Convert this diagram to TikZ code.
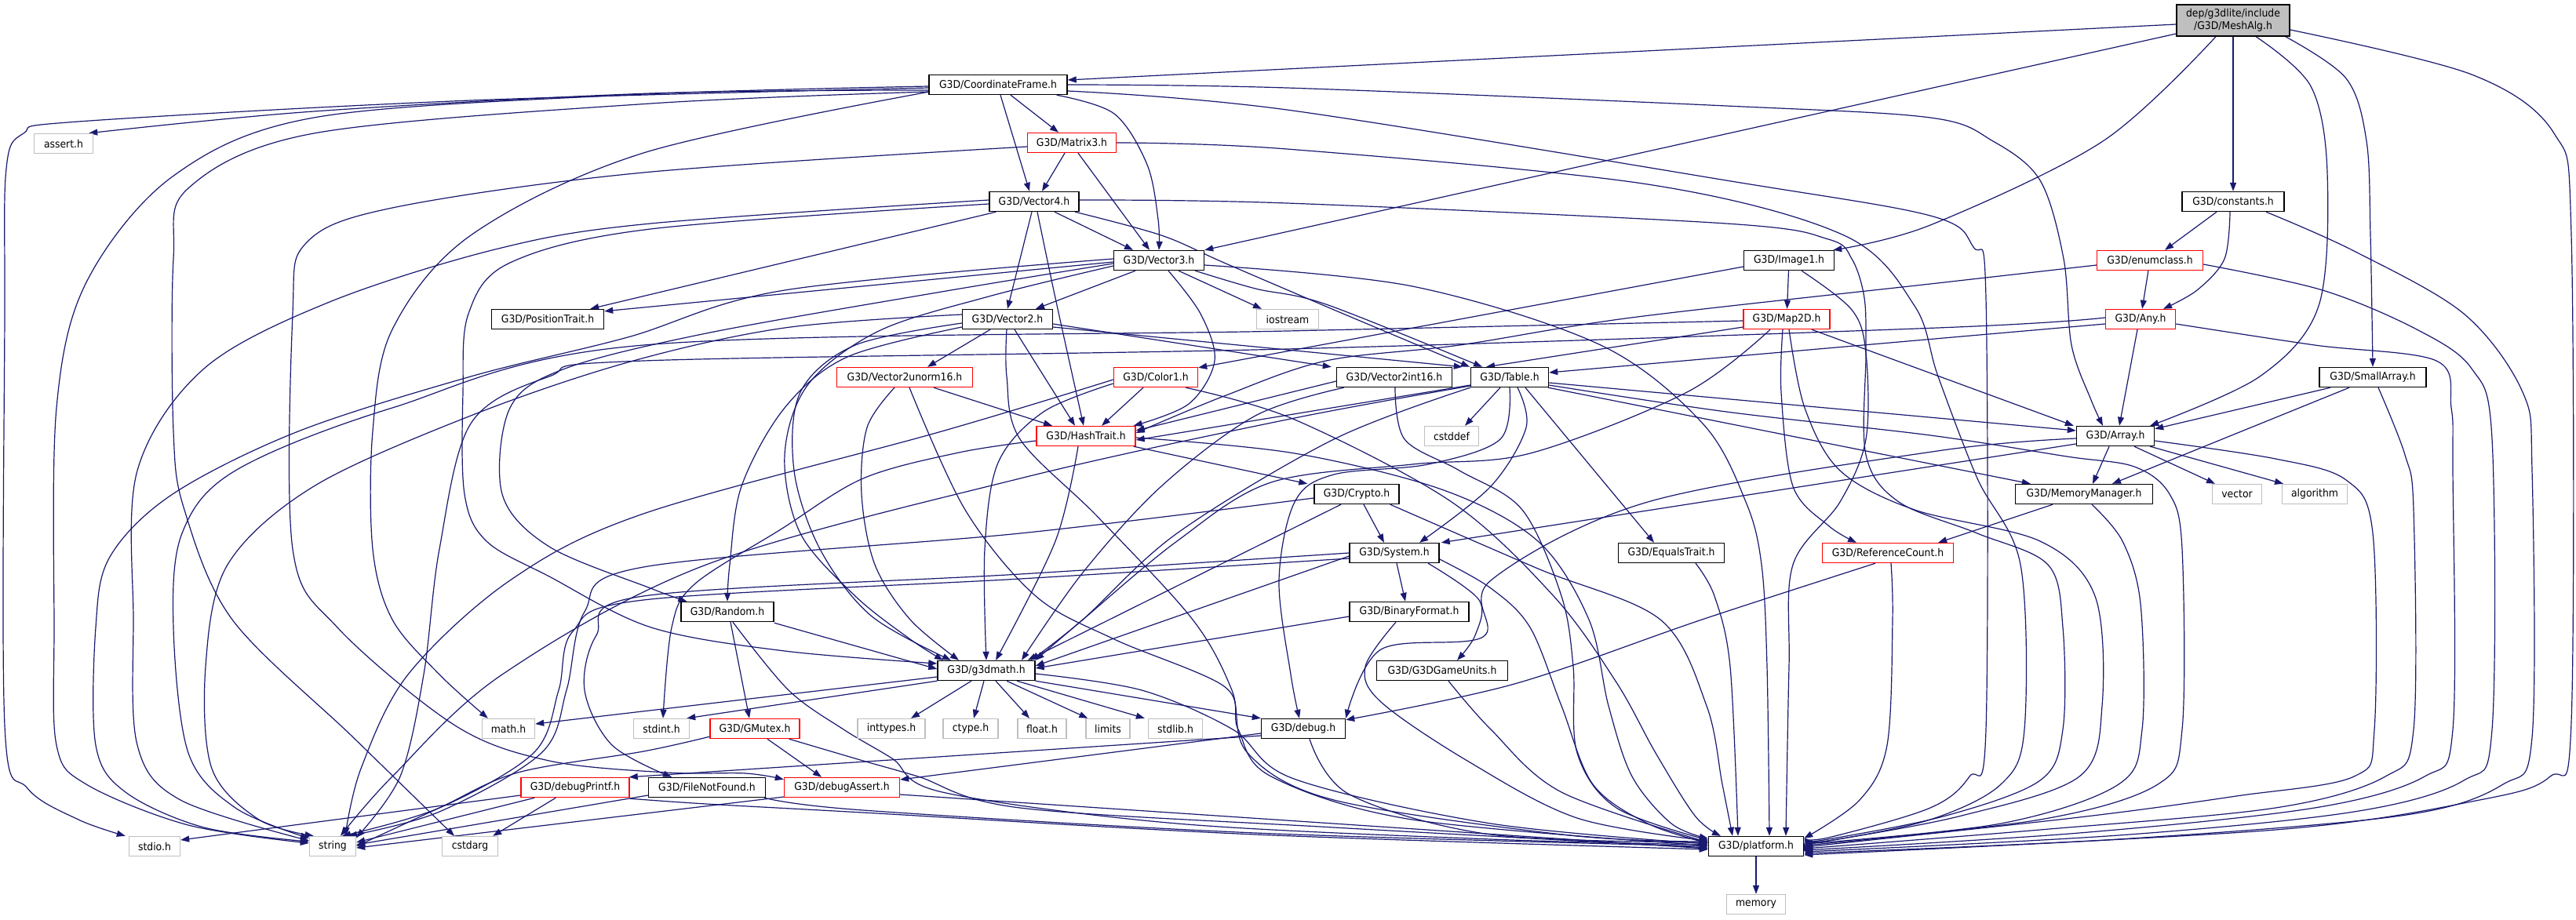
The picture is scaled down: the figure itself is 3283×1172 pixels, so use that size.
\documentclass[tikz,border=0pt]{standalone}
\usepackage{fontspec}
\newfontfamily\nodefont{DejaVu Sans}[FakeStretch=0.92]
\usetikzlibrary{arrows.meta}
\definecolor{edgec}{HTML}{191970}
\definecolor{extc}{HTML}{BFBFBF}
\definecolor{truncc}{HTML}{FF0000}
\pgfdeclarelayer{back}
\pgfdeclarelayer{bg}
\pgfsetlayers{back,bg,main}
\newcommand{\edgeP}[1]{\draw[e] plot[smooth,tension=0.55] coordinates {#1};}
\begin{document}
\begin{tikzpicture}[x=1pt,y=-1pt,
  box/.style={line width=1.4pt, fill=white, minimum height=25pt, inner sep=0pt, font=\nodefont\fontsize{13.5pt}{15.5pt}\selectfont},
  doc/.style={box, draw=black},
  trunc/.style={box, draw=truncc},
  ext/.style={box, draw=extc},
  root/.style={box, draw=black, fill=extc, minimum height=40pt, align=center},
  e/.style={draw=edgec, line width=1.2pt, -{Triangle[length=11pt,width=8pt]}}]
\begin{pgfonlayer}{back}
\fill[white] (0,0) rectangle (3283,1172);
\end{pgfonlayer}
\useasboundingbox (0,0) rectangle (3283,1172);
% nodes
\node[root, minimum width=144pt] (mesh) at (2846,26) {dep/g3dlite/include\\/G3D/MeshAlg.h};
\node[doc, minimum width=176pt] (cf) at (1272,108) {G3D/CoordinateFrame.h};
\node[trunc, minimum width=113pt] (mat3) at (1366,182) {G3D/Matrix3.h};
\node[doc, minimum width=114pt] (vec4) at (1318,257) {G3D/Vector4.h};
\node[doc, minimum width=115pt] (vec3) at (1477,332) {G3D/Vector3.h};
\node[doc, minimum width=143pt] (ptrait) at (698,407) {G3D/PositionTrait.h};
\node[doc, minimum width=115pt] (vec2) at (1284,407) {G3D/Vector2.h};
\node[ext, minimum width=79pt] (iostr) at (1641,407) {iostream};
\node[doc, minimum width=115pt] (img1) at (2280,332) {G3D/Image1.h};
\node[trunc, minimum width=110pt] (map2d) at (2277,407) {G3D/Map2D.h};
\node[doc, minimum width=130pt] (consts) at (2846,257) {G3D/constants.h};
\node[trunc, minimum width=135pt] (enumc) at (2740,332) {G3D/enumclass.h};
\node[trunc, minimum width=89pt] (any) at (2728,407) {G3D/Any.h};
\node[ext, minimum width=75pt] (assert) at (81,183) {assert.h};
\node[trunc, minimum width=173pt] (v2u16) at (1153,481) {G3D/Vector2unorm16.h};
\node[trunc, minimum width=107pt] (color1) at (1473,481) {G3D/Color1.h};
\node[doc, minimum width=147pt] (v2i16) at (1777,481) {G3D/Vector2int16.h};
\node[doc, minimum width=99pt] (table) at (1924,481) {G3D/Table.h};
\node[doc, minimum width=136pt] (small) at (3024,481) {G3D/SmallArray.h};
\node[trunc, minimum width=126pt] (hash) at (1384,556) {G3D/HashTrait.h};
\node[ext, minimum width=69pt] (cstddef) at (1850,556) {cstddef};
\node[doc, minimum width=99pt] (array) at (2696,556) {G3D/Array.h};
\node[doc, minimum width=108pt] (crypto) at (1729,630) {G3D/Crypto.h};
\node[doc, minimum width=175pt] (memmgr) at (2656,630) {G3D/MemoryManager.h};
\node[ext, minimum width=63pt] (vector) at (2851,630) {vector};
\node[ext, minimum width=83pt] (algo) at (2950,630) {algorithm};
\node[doc, minimum width=114pt] (system) at (1777,705) {G3D/System.h};
\node[doc, minimum width=135pt] (equals) at (2130,705) {G3D/EqualsTrait.h};
\node[trunc, minimum width=167pt] (refcnt) at (2406,705) {G3D/ReferenceCount.h};
\node[doc, minimum width=118pt] (random) at (927,780) {G3D/Random.h};
\node[doc, minimum width=152pt] (binfmt) at (1796,780) {G3D/BinaryFormat.h};
\node[doc, minimum width=124pt] (g3dmath) at (1257,855) {G3D/g3dmath.h};
\node[doc, minimum width=167pt] (units) at (1838,855) {G3D/G3DGameUnits.h};
\node[ext, minimum width=67pt] (math) at (648,929) {math.h};
\node[ext, minimum width=71pt] (stdint) at (843,929) {stdint.h};
\node[trunc, minimum width=114pt] (gmutex) at (962,929) {G3D/GMutex.h};
\node[ext, minimum width=86pt] (inttypes) at (1136,929) {inttypes.h};
\node[ext, minimum width=70pt] (ctype) at (1237,929) {ctype.h};
\node[ext, minimum width=62pt] (float) at (1328,929) {float.h};
\node[ext, minimum width=56pt] (limits) at (1412,929) {limits};
\node[ext, minimum width=69pt] (stdlib) at (1498,929) {stdlib.h};
\node[doc, minimum width=107pt] (debug) at (1661,929) {G3D/debug.h};
\node[trunc, minimum width=138pt] (dprintf) at (733,1004) {G3D/debugPrintf.h};
\node[doc, minimum width=149pt] (fnf) at (901,1004) {G3D/FileNotFound.h};
\node[trunc, minimum width=147pt] (dassert) at (1073,1004) {G3D/debugAssert.h};
\node[ext, minimum width=65pt] (stdio) at (197,1079) {stdio.h};
\node[ext, minimum width=59pt] (string) at (424,1079) {string};
\node[ext, minimum width=71pt] (cstdarg) at (599,1079) {cstdarg};
\node[doc, minimum width=121pt] (platform) at (2238,1079) {G3D/platform.h};
\node[ext, minimum width=75pt] (memory) at (2238,1153) {memory};

\begin{pgfonlayer}{bg}
% MeshAlg
\draw[e] ([yshift=-5pt]mesh.west) -- ([yshift=6pt]cf.east);
\draw[e] ([yshift=-17pt]mesh.west) -- (vec3.north east);
\edgeP{([xshift=-22pt]mesh.south) (2680,180) (2460,287) ([xshift=-2pt]img1.north east)}
\draw[e] (mesh) -- (consts);
\edgeP{([xshift=29pt]mesh.south) (2945,110) (2966,220) (2955,390) (2880,480) ([xshift=-6pt]array.north east)}
\edgeP{([xshift=-6pt]mesh.south east) (2990,100) (3016,180) (3021,300) (small.north)}
\edgeP{([yshift=-12pt]mesh.east) (3150,95) (3255,170) (3277,300) (3277,920) (3250,990) (3160,1020) (2900,1058) ([yshift=-11pt]platform.east)}
% CoordinateFrame
\edgeP{([yshift=-7pt]cf.west) (830,119) (400,142) ([xshift=-6pt]assert.north east)}
\edgeP{([yshift=-4pt]cf.west) (600,128) (100,155) (30,170) (8,215) (6,400) (6,925) (35,1005) (100,1045) ([xshift=-4pt]stdio.north west)}
\edgeP{([yshift=-2pt]cf.west) (800,121) (400,150) (220,225) (110,360) (72,520) (69,800) (72,950) (110,1000) (240,1052) ([yshift=4pt]string.west)}
\edgeP{([yshift=-9pt]cf.west) (829,132) (400,170) (240,240) (221,330) (221,550) (235,650) (296,790) (450,940) ([xshift=-20pt]cstdarg.north)}
\edgeP{([yshift=4pt]cf.south west) (820,195) (600,300) (500,420) (475,550) (475,700) (500,790) (560,860) ([xshift=8pt]math.north west)}
\draw[e] ([xshift=16pt]cf.south) -- ([xshift=-17pt]mat3.north);
\draw[e] ([xshift=3pt]cf.south) -- ([xshift=-6pt]vec4.north);
\edgeP{([xshift=-14pt]cf.south east) (1420,145) (1462,210) (1476,280) (vec3.north)}
\edgeP{(cf.east) (1640,112) (2200,135) (2460,150) (2540,180) (2600,230) (2630,330) (2640,440) (2665,510) ([xshift=-16pt]array.north)}
\edgeP{([yshift=-8pt]cf.east) (1640,140) (2200,230) (2460,275) (2515,315) (2531,380) (2531,930) (2510,990) (2460,1030) (2330,1068) ([yshift=11pt]platform.east)}
% Matrix3
\draw[e] ([xshift=-9pt]mat3.south) -- ([xshift=10pt]vec4.north);
\draw[e] ([xshift=8pt]mat3.south) -- ([xshift=-12pt]vec3.north);
\edgeP{([yshift=-5pt]mat3.west) (820,220) (500,265) (390,310) (373,400) (373,700) (430,800) (580,925) (700,970) (850,985) (950,986) ([yshift=-3pt]dassert.north west)}
\edgeP{(mat3.east) (1640,190) (2100,235) (2350,300) (2440,390) (2470,480) (2520,610) (2575,720) (2580,930) (2550,1000) (2460,1045) (2330,1072) ([yshift=9pt]platform.east)}
% Vector4
\draw[e] ([xshift=26pt]vec4.south) -- ([xshift=-33pt]vec3.north);
\draw[e] ([xshift=-3pt]vec4.south) -- (vec2.north);
\edgeP{([xshift=4pt]vec4.south) (1345,380) ([xshift=-3pt]hash.north)}
\edgeP{([xshift=52pt]vec4.south) (1480,300) (1560,335) (1700,395) ([xshift=-51pt]table.north)}
\draw[e] ([xshift=9pt]vec4.south west) -- ([xshift=-18pt]ptrait.north east);
\edgeP{([yshift=2pt]vec4.west) (829,285) (635,317) (420,385) (260,470) (175,600) (170,790) (175,950) (230,1020) ([yshift=-6pt]string.north west)}
\edgeP{([yshift=-3pt]vec4.west) (829,292) (650,335) (597,400) (590,500) (592,630) (620,690) (700,735) (830,800) (1000,830) ([yshift=9pt]g3dmath.west)}
\edgeP{([yshift=2pt]vec4.east) (1640,259) (2200,285) (2330,305) (2360,330) (2376,380) (2378,450) (2378,580) (2420,640) (2520,680) (2610,720) (2629,800) (2629,930) (2600,995) (2480,1040) (2330,1070) ([yshift=7pt]platform.east)}
% Vector3
\draw[e] ([xshift=-30pt]vec3.south) -- ([xshift=36pt]vec2.north);
\draw[e] ([xshift=25pt]vec3.south) -- ([xshift=-33pt]iostr.north);
\edgeP{([xshift=-12pt]vec3.south east) (1600,368) (1690,388) ([xshift=-35pt]table.north)}
\edgeP{([xshift=12pt]vec3.south) (1530,400) (1548,460) (1515,515) ([xshift=-3pt]hash.north east)}
\edgeP{([yshift=-6pt]vec3.east) (1800,365) (2040,440) (2170,540) (2225,640) (2245,720) (2252,850) ([xshift=17pt]platform.north)}
\edgeP{([yshift=-4pt]vec3.west) (1200,372) (900,425) (720,470) (650,520) (640,630) (700,697) (829,750) ([xshift=8pt]random.north west)}
\edgeP{([yshift=-7pt]vec3.west) (1260,378) (1120,422) (1030,490) (1000,580) (1020,680) (1090,760) (1160,815) ([xshift=-55pt]g3dmath.north)}
\edgeP{([yshift=2pt]vec3.west) (1000,370) (800,430) (600,480) (380,550) (220,630) (140,710) (122,800) (122,950) (160,1010) (260,1055) ([yshift=6pt]string.west)}
\draw[e] ([yshift=-2pt]vec3.west) -- ([yshift=-3pt]ptrait.north east);
% Vector2
\draw[e] ([xshift=-22pt]vec2.south) -- ([xshift=29pt]v2u16.north);
\draw[e] ([xshift=9pt]vec2.south) -- ([xshift=-14pt]hash.north);
\draw[e] ([yshift=-6pt]vec2.east) -- ([xshift=-6pt]v2i16.north west);
\draw[e] ([yshift=-10pt]vec2.east) -- ([xshift=-10pt]table.north west);
\edgeP{([xshift=-1pt]vec2.south) (1283,480) (1300,560) (1400,660) (1520,790) (1570,880) (1590,960) (1700,1020) (2000,1065) ([yshift=6pt]platform.west)}
\edgeP{([yshift=-5pt]vec2.west) (1090,440) (1020,500) (1012,600) (1045,700) (1110,785) ([xshift=-45pt]g3dmath.north)}
\edgeP{([yshift=-10pt]vec2.west) (1080,455) (1000,520) (945,620) (930,720) (random.north)}
\edgeP{([yshift=6pt]vec2.west) (1000,418) (800,462) (600,530) (400,620) (290,720) (262,850) (270,980) (330,1045) ([xshift=6pt]string.north west)}
% Vector2unorm16
\draw[e] ([xshift=37pt]v2u16.south) -- ([xshift=-43pt]hash.north);
\edgeP{([xshift=-13pt]v2u16.south) (1105,545) (1098,630) (1115,720) (1160,790) ([xshift=-35pt]g3dmath.north)}
\edgeP{([xshift=6pt]v2u16.south) (1230,650) (1320,760) (1420,815) (1560,875) (1578,930) (1620,990) (1800,1045) ([yshift=1pt]platform.west)}
% Vector2int16
\draw[e] ([yshift=-5pt]v2i16.west) -- ([yshift=7pt]hash.east);
\edgeP{([xshift=10pt]v2i16.south west) (1600,530) (1480,620) (1380,730) ([xshift=45pt]g3dmath.north)}
\edgeP{([xshift=1pt]v2i16.south) (1790,560) (1860,600) (1940,650) (1990,760) (2005,850) (2010,960) (2060,1030) ([yshift=8pt]platform.west)}
% Color1
\draw[e] ([xshift=-16pt]color1.south) -- ([xshift=20pt]hash.north);
\edgeP{([yshift=-3pt]color1.west) (1200,550) (820,655) (650,740) (520,860) (460,980) ([xshift=16pt]string.north)}
\edgeP{([yshift=-8pt]color1.west) (1330,525) (1272,590) (1255,700) (g3dmath.north)}
\edgeP{([xshift=-16pt]color1.south east) (1650,535) (1850,640) (1980,760) (2060,870) (2110,960) (2160,1040) ([xshift=-45pt]platform.north)}
% Image1
\draw[e] ([yshift=-8pt]img1.west) -- ([yshift=-1pt]color1.north east);
\draw[e] (img1) -- (map2d);
\edgeP{([xshift=16pt]img1.south) (2360,395) (2378,450) (2378,560) (2345,640) (2285,720) (2280,850) ([xshift=38pt]platform.north)}
% Map2D
\draw[e] ([yshift=-10pt]map2d.west) -- ([xshift=-30pt]table.north);
\edgeP{([yshift=-2pt]map2d.west) (1640,422) (820,440) (500,520) (300,600) (232,680) (221,800) (240,960) (300,1030) ([yshift=-3pt]string.north west)}
\edgeP{([xshift=-21pt]map2d.south) (2150,500) (1950,578) (1800,592) (1620,615) (1500,690) (1380,790) (g3dmath.north east)}
\edgeP{([xshift=-5pt]map2d.south) (2270,500) (2285,620) (2330,670) ([xshift=-40pt]refcnt.north)}
\edgeP{([xshift=3pt]map2d.south) (2300,520) (2345,600) (2440,650) (2600,690) (2670,760) (2679,900) (2650,990) (2500,1040) (2330,1072) ([yshift=5pt]platform.east)}
\draw[e] ([xshift=32pt]map2d.south) -- ([xshift=-3pt]array.north west);
% constants
\draw[e] ([xshift=-21pt]consts.south) -- ([xshift=19pt]enumc.north);
\edgeP{([xshift=-4pt]consts.south) (2835,330) (2800,370) ([xshift=29pt]any.north)}
\edgeP{([xshift=42pt]consts.south) (3000,320) (3140,400) (3215,500) (3227,600) (3227,940) (3190,1000) (3060,1040) (2700,1070) ([yshift=-9pt]platform.east)}
% enumclass
\draw[e] (enumc) -- (any);
\edgeP{([yshift=-6pt]enumc.west) (2460,362) (2079,405) (1860,440) (1690,460) (1560,505) ([yshift=4pt]hash.east)}
\edgeP{([yshift=-5pt]enumc.east) (2960,370) (3080,420) (3150,470) (3176,560) (3176,930) (3140,995) (3000,1035) (2700,1065) ([yshift=-7pt]platform.east)}
% Any
\draw[e] ([xshift=-4pt]any.south) -- ([xshift=5pt]array.north);
\draw[e] ([yshift=-6pt]any.west) -- ([yshift=6pt]table.east);
\edgeP{([yshift=2pt]any.west) (2469,418) (1640,445) (820,460) (700,480) (600,540) (560,700) (540,860) (510,990) ([yshift=-2pt]string.north east)}
\edgeP{([yshift=-6pt]any.east) (2950,440) (3105,460) (3124,520) (3126,600) (3126,930) (3090,990) (2950,1030) (2650,1062) ([yshift=-5pt]platform.east)}
% SmallArray
\draw[e] ([xshift=-54pt]small.south) -- ([yshift=-4pt]array.north east);
\draw[e] ([xshift=-30pt]small.south) -- ([xshift=36pt]memmgr.north);
\edgeP{([xshift=7pt]small.south) (3065,580) (3076,650) (3076,930) (3040,990) (2900,1030) (2600,1058) ([yshift=-3pt]platform.east)}
% Array
\draw[e] ([xshift=-8pt]array.south) -- ([xshift=11pt]memmgr.north);
\draw[e] ([xshift=24pt]array.south) -- ([xshift=-28pt]vector.north);
\draw[e] ([xshift=-6pt]array.south east) -- ([xshift=-40pt]algo.north);
\edgeP{([yshift=-6pt]array.east) (2900,585) (2990,612) (3024,680) (3026,930) (3000,990) (2850,1015) (2650,1042) ([yshift=-1pt]platform.east)}
\edgeP{([yshift=-3pt]array.west) (2469,575) (2100,640) (1900,740) (1890,812) (1760,828) (debug.north east)}
\draw[e] ([yshift=-10pt]array.west) -- ([xshift=2pt]system.north east);
% MemoryManager
\draw[e] ([xshift=-40pt]memmgr.south) -- ([xshift=-20pt]refcnt.north east);
\edgeP{([xshift=10pt]memmgr.south) (2705,690) (2728,770) (2730,930) (2700,1000) (2550,1050) ([yshift=3pt]platform.east)}
% ReferenceCount
\edgeP{([xshift=-16pt]refcnt.south) (2169,790) (1930,872) ([yshift=-2pt]debug.north east)}
\edgeP{([xshift=4pt]refcnt.south) (2412,790) (2405,950) (2370,1020) ([yshift=-3pt]platform.north east)}
% Table
\draw[e] ([xshift=-12pt]table.south) -- ([xshift=17pt]cstddef.north);
\draw[e] ([yshift=-10pt]table.west) -- ([yshift=-5pt]hash.east);
\edgeP{(table.south west) (1700,560) (1500,680) (1380,790) ([xshift=-6pt]g3dmath.north east)}
\edgeP{([yshift=-11pt]table.west) (1640,535) (1300,610) (900,720) (640,860) (500,990) ([xshift=10pt]string.north)}
\edgeP{(table.south) (1912,560) (1820,592) (1700,605) (1650,640) (1630,740) (1645,860) ([xshift=-5pt]debug.north)}
\edgeP{([xshift=10pt]table.south) (1945,545) (1900,620) ([xshift=32pt]system.north)}
\draw[e] ([xshift=20pt]table.south) -- ([xshift=-22pt]equals.north);
\draw[e] ([yshift=-7pt]table.east) -- ([yshift=7pt]array.west);
\draw[e] ([xshift=-1pt]table.south east) -- ([xshift=20pt]memmgr.north west);
\edgeP{([yshift=-10pt]table.east) (2200,525) (2460,555) (2634,582) (2720,595) (2765,630) (2781,700) (2781,930) (2750,1000) (2600,1045) ([yshift=1pt]platform.east)}
% EqualsTrait
\edgeP{([xshift=31pt]equals.south) (2185,760) (2205,850) ([xshift=-23pt]platform.north)}
% HashTrait
\draw[e] ([xshift=-3pt]hash.south east) -- ([xshift=-8pt]crypto.north west);
\edgeP{([xshift=-10pt]hash.south) (1345,690) ([xshift=12pt]g3dmath.north)}
\edgeP{([yshift=-6pt]hash.west) (1222,577) (1100,610) (995,675) (885,745) (856,800) ([xshift=2pt]stdint.north)}
\edgeP{([yshift=-2pt]hash.east) (1650,578) (1840,625) (1960,690) (2025,790) (2050,900) (2080,990) (2130,1050) ([yshift=10pt]platform.west)}
% Crypto
\draw[e] ([xshift=9pt]crypto.south) -- ([xshift=-13pt]system.north);
\draw[e] ([xshift=-20pt]crypto.south) -- ([xshift=-10pt]g3dmath.north east);
\edgeP{([yshift=-5pt]crypto.west) (1300,680) (820,723) (745,780) (722,880) (690,960) (560,1035) ([xshift=20pt]string.north)}
\edgeP{([xshift=-12pt]crypto.south east) (1960,725) (2116,790) (2175,900) (2195,1000) ([xshift=-30pt]platform.north)}
% System
\draw[e] ([xshift=3pt]system.south) -- ([xshift=-5pt]binfmt.north);
\edgeP{([xshift=43pt]system.south) (1885,765) (1880,810) ([xshift=19pt]units.north)}
\draw[e] ([yshift=-4pt]system.west) -- ([yshift=6pt]g3dmath.east);
\edgeP{([yshift=-7pt]system.west) (1300,738) (820,765) (730,805) (712,880) (680,960) (560,1030) ([xshift=12pt]string.north)}
\edgeP{(system.west) (1300,732) (820,760) (760,810) (745,880) (780,950) ([xshift=-45pt]fnf.north)}
\edgeP{([yshift=-8pt]system.east) (1900,750) (1950,800) (1990,900) (2030,1000) (2100,1050) ([yshift=4pt]platform.west)}
% BinaryFormat
\draw[e] ([yshift=-6pt]binfmt.west) -- ([yshift=3pt]g3dmath.east);
\edgeP{([xshift=-17pt]binfmt.south) (1740,850) (1760,895) (1870,970) (2010,1043) ([yshift=7pt]platform.west)}
% G3DGameUnits
\edgeP{([xshift=8pt]units.south) (1900,930) (1990,1010) ([yshift=5pt]platform.west)}
% Random
\draw[e] ([xshift=4pt]random.south) -- ([xshift=-7pt]gmutex.north);
\draw[e] ([yshift=-1pt]random.south east) -- ([yshift=2pt]g3dmath.west);
\edgeP{([xshift=7pt]random.south) (1005,880) (1075,930) (1137,967) (1201,1010) (1500,1050) (1900,1070) ([yshift=2pt]platform.west)}
% GMutex
\draw[e] ([xshift=16pt]gmutex.south) -- ([xshift=-26pt]dassert.north);
\edgeP{([yshift=3pt]gmutex.south west) (820,958) (660,985) (560,1030) (string.east)}
\edgeP{([xshift=-14pt]gmutex.south east) (1100,970) (1170,990) (1300,1030) (1700,1055) ([yshift=-2pt]platform.west)}
% g3dmath
\draw[e] ([yshift=-8pt]g3dmath.west) -- ([yshift=6pt]math.east);
\draw[e] (g3dmath.south west) -- ([xshift=-4pt]stdint.north east);
\draw[e] ([xshift=-19pt]g3dmath.south) -- ([xshift=25pt]inttypes.north);
\draw[e] ([xshift=-3pt]g3dmath.south) -- ([xshift=4pt]ctype.north);
\draw[e] ([xshift=12pt]g3dmath.south) -- ([xshift=-16pt]float.north);
\draw[e] ([xshift=26pt]g3dmath.south) -- ([xshift=3pt]limits.north west);
\draw[e] ([xshift=39pt]g3dmath.south) -- ([xshift=-4pt]stdlib.north west);
\draw[e] (g3dmath.south east) -- (debug.north west);
\edgeP{([yshift=-4pt]g3dmath.east) (1455,880) (1571,930) (1649,993) (1900,1050) ([yshift=3pt]platform.west)}
% debug
\draw[e] ([yshift=-6pt]debug.west) -- ([yshift=10pt]dassert.east);
\draw[e] ([yshift=-9pt]debug.west) -- ([xshift=-1pt]dprintf.north east);
\edgeP{([xshift=8pt]debug.south) (1720,1013) (1900,1064) ([yshift=5pt]platform.west)}
% debugPrintf
\draw[e] ([yshift=-10pt]dprintf.west) -- ([yshift=8pt]stdio.east);
\draw[e] ([xshift=18pt]dprintf.south west) -- ([yshift=5pt]string.east);
\draw[e] ([xshift=45pt]dprintf.south west) -- ([xshift=-7pt]cstdarg.north east);
\edgeP{([yshift=-1pt]dprintf.south east) (900,1025) (1100,1036) (1600,1064) ([yshift=-4pt]platform.west)}
% FileNotFound
\draw[e] ([yshift=-10pt]fnf.west) -- ([yshift=2pt]string.east);
\edgeP{([xshift=-2pt]fnf.south east) (1100,1033) (1600,1062) (platform.west)}
% debugAssert
\draw[e] ([yshift=-12pt]dassert.west) -- ([yshift=-2pt]string.east);
\draw[e] ([yshift=-9pt]dassert.east) -- ([yshift=-3pt]platform.west);
% platform
\draw[e] (platform) -- (memory);
\end{pgfonlayer}
\end{tikzpicture}
\end{document}
